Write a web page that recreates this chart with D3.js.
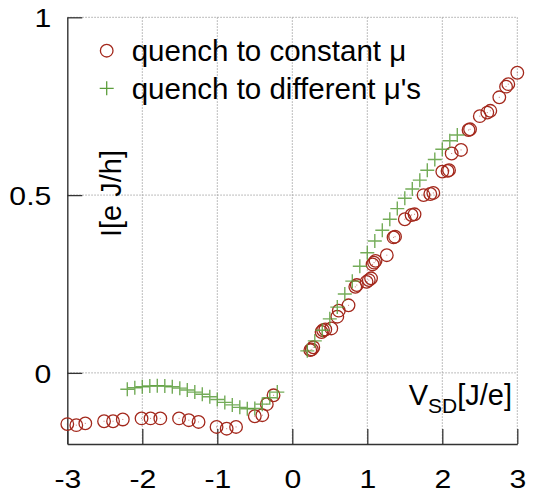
<!DOCTYPE html>
<html lang="en">
	<head>
		<meta charset="utf-8">
		<title>I vs V_SD</title>
		<script type="text/javascript" src="https://d3js.org/d3.v7.min.js"></script>
		<style type="text/css">
			body { margin: 0; background: #fff; }
			text { font-family: "Liberation Sans", Arial, sans-serif; fill: #000; }
		</style>
	</head>
	<body>
		<script type="text/javascript">
		//quench to constant mu (red circles)
		var constX = [-3.0, -2.88, -2.76, -2.51, -2.39, -2.26, -2.01, -1.89, -1.76, -1.51, -1.38, -1.25,
			-1.01, -0.875, -0.75, -0.50, -0.40, -0.34, -0.25,
			0.24, 0.26, 0.28, 0.39, 0.41, 0.44, 0.52, 0.60, 0.62, 0.75, 0.84, 0.86, 0.99, 1.02, 1.05,
			1.07, 1.09, 1.11, 1.26, 1.35, 1.37, 1.50, 1.59, 1.63, 1.75, 1.84, 1.88, 2.0, 2.07, 2.09,
			2.125, 2.25, 2.35, 2.37, 2.50, 2.60, 2.64, 2.76, 2.85, 2.88, 3.0];
		var constY = [-0.144, -0.147, -0.142, -0.136, -0.136, -0.131, -0.128, -0.128, -0.128, -0.128, -0.133, -0.138,
			-0.152, -0.157, -0.152, -0.122, -0.119, -0.088, -0.063,
			0.064, 0.066, 0.072, 0.115, 0.120, 0.122, 0.125, 0.158, 0.175, 0.190, 0.242, 0.247, 0.256, 0.261, 0.266,
			0.305, 0.310, 0.315, 0.331, 0.381, 0.383, 0.432, 0.444, 0.446, 0.500, 0.503, 0.506, 0.566, 0.568, 0.570,
			0.617, 0.627, 0.683, 0.685, 0.722, 0.732, 0.737, 0.775, 0.805, 0.812, 0.844];

		//quench to different mu's (green crosses)
		var diffX = [-2.2, -2.1, -2.0, -1.9, -1.8, -1.7, -1.6, -1.5, -1.4, -1.3, -1.2, -1.1, -1.0,
			-0.9, -0.8, -0.7, -0.6, -0.5, -0.4, -0.3, -0.2,
			0.2, 0.3, 0.4, 0.5, 0.6, 0.7, 0.8, 0.9, 1.0, 1.1, 1.2, 1.3, 1.4, 1.5, 1.6, 1.7, 1.8,
			1.9, 2.0, 2.1, 2.2];
		var diffY = [-0.046, -0.042, -0.039, -0.037, -0.036, -0.037, -0.039, -0.043, -0.048, -0.054, -0.060, -0.067, -0.075,
			-0.083, -0.090, -0.097, -0.101, -0.100, -0.088, -0.070, -0.054,
			0.062, 0.090, 0.120, 0.152, 0.185, 0.222, 0.258, 0.300, 0.338, 0.371, 0.401, 0.432, 0.462, 0.491, 0.517, 0.542, 0.570,
			0.600, 0.629, 0.653, 0.669];

		var xTicks = [-3, -2, -1, 0, 1, 2, 3];
		var yTicks = [0, 0.5, 1];
		var legendLabels = ["quench to constant \u03bc", "quench to different \u03bc's"];

		function draw() {
			var w = 533;
			var h = 493;
			var pLeft = 67.3, pRight = 517.3, pTop = 17.3, pBottom = 444;
			var red = "#a3281c";
			var green = "#5c9e3c";
			var stretch = 1.17; //tick labels are wider than plain Liberation Sans

			var x = d3.scaleLinear().domain([-3, 3]).range([pLeft, pRight]);
			var y = d3.scaleLinear().domain([-0.2, 1]).range([pBottom, pTop]);

			var svg = d3.select("body")
						.append("svg")
						.attr("width", w)
						.attr("height", h);

			//dotted grid
			svg.append("g")
				.selectAll("line")
				.data(xTicks.slice(1))
				.enter()
				.append("line")
				.attr("x1", function(d) { return x(d); })
				.attr("x2", function(d) { return x(d); })
				.attr("y1", pTop)
				.attr("y2", pBottom)
				.attr("stroke", "#a8a8a8")
				.attr("stroke-width", 1)
				.attr("stroke-dasharray", "1.5,1.5");
			svg.append("g")
				.selectAll("line")
				.data(yTicks)
				.enter()
				.append("line")
				.attr("x1", pLeft)
				.attr("x2", pRight)
				.attr("y1", function(d) { return y(d); })
				.attr("y2", function(d) { return y(d); })
				.attr("stroke", "#a8a8a8")
				.attr("stroke-width", 1)
				.attr("stroke-dasharray", "1.5,1.5");

			//axes, ticks pointing inward
			var yAxis = d3.axisLeft(y).tickValues(yTicks).tickSize(-15).tickSizeOuter(0).tickFormat(d3.format("")).tickPadding(17);
			var xAxis = d3.axisBottom(x).tickValues(xTicks).tickSize(-15).tickSizeOuter(0).tickFormat(d3.format("d")).tickPadding(25.5);

			var gy = svg.append("g")
				.attr("transform", "translate(" + pLeft + ",0)")
				.call(yAxis);
			var gx = svg.append("g")
				.attr("transform", "translate(0," + pBottom + ")")
				.call(xAxis);

			[gx, gy].forEach(function(g) {
				g.select(".domain").attr("stroke", "#333").attr("stroke-width", 1.4);
				g.selectAll(".tick line").attr("stroke", "#333").attr("stroke-width", 1.3);
				g.selectAll(".tick text")
					.attr("font-family", "Liberation Sans, Arial, sans-serif")
					.attr("font-size", 25.8)
					.attr("fill", "#000")
					.attr("transform", "scale(" + stretch + ",1)");
			});
			gx.selectAll(".tick text").text(function(d) { return d < 0 ? "-" + Math.abs(d) : d; });
			gy.selectAll(".tick text").attr("dy", "0.36em").attr("x", -16 / stretch);
			gx.selectAll(".tick text").attr("dy", "0.71em");

			//red circles with a dot in the middle
			var constData = constX.map(function(d, i) { return [d, constY[i]]; });
			svg.append("g")
				.selectAll("circle")
				.data(constData)
				.enter()
				.append("circle")
				.attr("cx", function(d) { return x(d[0]); })
				.attr("cy", function(d) { return y(d[1]); })
				.attr("r", 6.3)
				.attr("fill", "none")
				.attr("stroke", red)
				.attr("stroke-width", 1.3);
			svg.append("g")
				.selectAll("rect")
				.data(constData)
				.enter()
				.append("rect")
				.attr("x", function(d) { return x(d[0]) - 0.5; })
				.attr("y", function(d) { return y(d[1]) - 0.5; })
				.attr("width", 1)
				.attr("height", 1)
				.attr("fill", red)
				.attr("opacity", 0.6);

			//green crosses
			var diffData = diffX.map(function(d, i) { return [d, diffY[i]]; });
			svg.append("g")
				.selectAll("path")
				.data(diffData)
				.enter()
				.append("path")
				.attr("d", function(d) {
					var cx = x(d[0]), cy = y(d[1]);
					return "M" + (cx - 7) + "," + cy + "H" + (cx + 7) + "M" + cx + "," + (cy - 7) + "V" + (cy + 7);
				})
				.attr("fill", "none")
				.attr("stroke", green)
				.attr("stroke-opacity", 0.85)
				.attr("stroke-width", 1.4);

			//legend
			var legend = svg.append("g");
			legend.append("circle")
				.attr("cx", 106.7)
				.attr("cy", 50.7)
				.attr("r", 6.3)
				.attr("fill", "none")
				.attr("stroke", red)
				.attr("stroke-width", 1.3);
			legend.append("path")
				.attr("d", "M99.7,88.3H113.7M106.7,81.3V95.3")
				.attr("stroke", green)
				.attr("stroke-width", 1.3);
			legend.selectAll("text")
				.data(legendLabels)
				.enter()
				.append("text")
				.attr("x", 131.7)
				.attr("y", function(d, i) { return 61 + i * 37.6; })
				.attr("font-size", 29.5)
				.text(function(d) { return d; });

			//axis labels
			svg.append("text")
				.attr("transform", "translate(121,193.5) rotate(-90)")
				.attr("text-anchor", "middle")
				.attr("font-size", 29)
				.text("I[e J/h]");

			var xl = svg.append("text")
				.attr("x", 512)
				.attr("y", 404.5)
				.attr("text-anchor", "end")
				.attr("font-size", 29);
			xl.append("tspan").text("V");
			xl.append("tspan").attr("font-size", 21).attr("dy", 8).text("SD");
			xl.append("tspan").attr("dy", -8).text("[J/e]");
		}
		draw();
		</script>
	</body>
</html>
